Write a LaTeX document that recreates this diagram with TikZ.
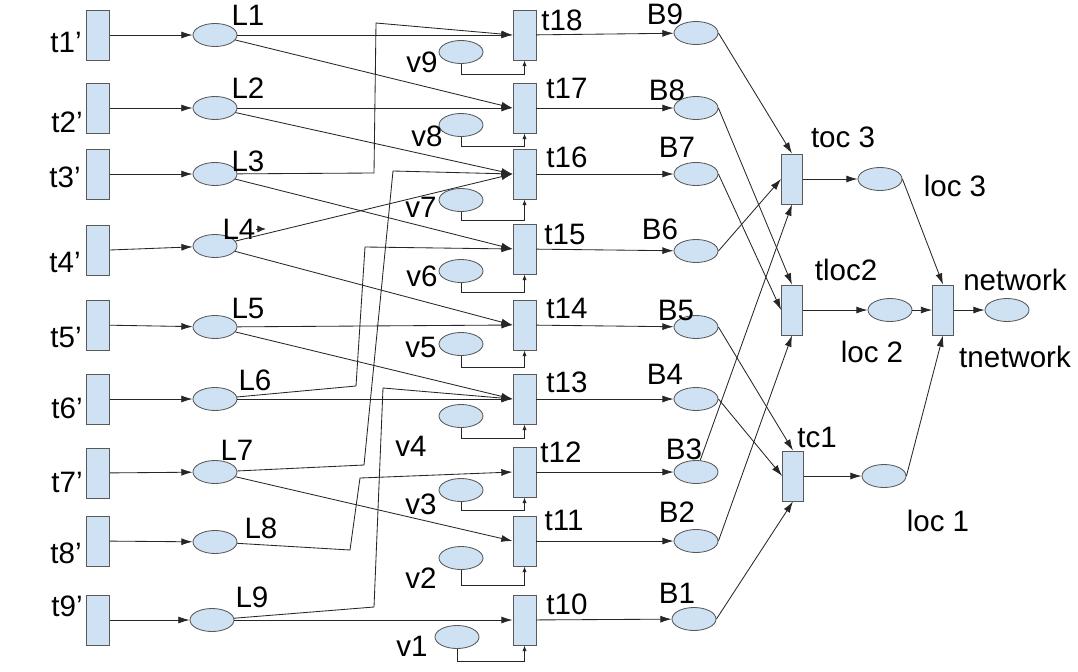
\documentclass[tikz,border=0pt]{standalone}
\usepackage{fontspec}
\setmainfont{Liberation Sans}
\usetikzlibrary{positioning,calc,arrows.meta,shapes.geometric}

\definecolor{netblue}{HTML}{CFE2F3}
\definecolor{netgray}{HTML}{595959}
\definecolor{netline}{HTML}{262626}

\begin{document}
\begin{tikzpicture}[x=0.025cm,y=-0.025cm,->,>={Latex[length=8pt,width=5pt]},
			line width=0.6pt,color=netline,
			trans node/.style={draw=netgray, fill=netblue, rectangle, inner sep=0pt, minimum width=0.575cm, minimum height=1.25cm},
			place node/.style={draw=netgray, fill=netblue, ellipse, inner sep=0pt, minimum width=1.1cm, minimum height=0.575cm},
			tag/.style={font=\fontsize{21}{24}\selectfont, inner sep=0pt, text=black},
			wire/.style={->,>={Latex[length=4pt,width=3pt]}}]

			\useasboundingbox[fill=white] (0,0) rectangle (1078,671);

			% left transitions and places
			\node[trans node] (tp1) at (98,35)  {};
			\node[trans node] (tp2) at (98,108) {};
			\node[trans node] (tp3) at (98,174) {};
			\node[trans node] (tp4) at (98,250) {};
			\node[trans node] (tp5) at (98,325) {};
			\node[trans node] (tp6) at (98,399) {};
			\node[trans node] (tp7) at (98,473) {};
			\node[trans node] (tp8) at (98,541) {};
			\node[trans node] (tp9) at (98,620) {};

			\node[tag] (tp1text) at (66,42)  {t1’};
			\node[tag] (tp2text) at (67,122) {t2’};
			\node[tag] (tp3text) at (65,177) {t3’};
			\node[tag] (tp4text) at (65,262) {t4’};
			\node[tag] (tp5text) at (66,337) {t5’};
			\node[tag] (tp6text) at (67,408) {t6’};
			\node[tag] (tp7text) at (67,482) {t7’};
			\node[tag] (tp8text) at (66,553) {t8’};
			\node[tag] (tp9text) at (67,606) {t9’};

			\node[place node] (L1) at (215,35)  {};
			\node[place node] (L2) at (215,108) {};
			\node[place node] (L3) at (215,174) {};
			\node[place node] (L4) at (215,246) {};
			\node[place node] (L5) at (215,327) {};
			\node[place node] (L6) at (215,399) {};
			\node[place node] (L7) at (215,472) {};
			\node[place node] (L8) at (215,542) {};
			\node[place node] (L9) at (212,620) {};

			\node[tag] (L1text) at (248,15)  {L1};
			\node[tag] (L2text) at (248,88)  {L2};
			\node[tag] (L3text) at (248,161) {L3};
			\node[tag] (L4text) at (239,229) {L4};
			\node[tag] (L5text) at (248,308) {L5};
			\node[tag] (L6text) at (255,380) {L6};
			\node[tag] (L7text) at (237,450) {L7};
			\node[tag] (L8text) at (261,528) {L8};
			\node[tag] (L9text) at (252,597) {L9};
			\draw[-{Latex[length=6pt,width=5pt]}] (L4text.east) -- ++(10,0);

			% middle transitions, v places, B places
			\node[trans node] (t18) at (524.5,35)  {};
			\node[trans node] (t17) at (524.5,108) {};
			\node[trans node] (t16) at (524.5,174) {};
			\node[trans node] (t15) at (524.5,249) {};
			\node[trans node] (t14) at (524.5,325) {};
			\node[trans node] (t13) at (524.5,399) {};
			\node[trans node] (t12) at (524.5,472) {};
			\node[trans node] (t11) at (524.5,541) {};
			\node[trans node] (t10) at (524.5,620) {};

			\node[tag] (t18text) at (562,20)  {t18};
			\node[tag] (t17text) at (567,88)  {t17};
			\node[tag] (t16text) at (567,157) {t16};
			\node[tag] (t15text) at (565,234) {t15};
			\node[tag] (t14text) at (567,308) {t14};
			\node[tag] (t13text) at (567,382) {t13};
			\node[tag] (t12text) at (561,452) {t12};
			\node[tag] (t11text) at (564,520) {t11};
			\node[tag] (t10text) at (567,604) {t10};

			\node[place node] (v9) at (461,52)  {};
			\node[place node] (v8) at (461,125) {};
			\node[place node] (v7) at (461,200) {};
			\node[place node] (v6) at (461,271) {};
			\node[place node] (v5) at (461,344) {};
			\node[place node] (v4) at (461,416) {};
			\node[place node] (v3) at (461,490) {};
			\node[place node] (v2) at (461,558) {};
			\node[place node] (v1) at (457,637) {};

			\node[tag] (v9text) at (422,62)  {v9};
			\node[tag] (v8text) at (427,136) {v8};
			\node[tag] (v7text) at (421,207) {v7};
			\node[tag] (v6text) at (422,276) {v6};
			\node[tag] (v5text) at (421,347) {v5};
			\node[tag] (v4text) at (411,446) {v4};
			\node[tag] (v3text) at (421,504) {v3};
			\node[tag] (v2text) at (421,578) {v2};
			\node[tag] (v1text) at (412,646) {v1};

			\node[place node] (B9) at (696,33)  {};
			\node[place node] (B8) at (696,108) {};
			\node[place node] (B7) at (696,174) {};
			\node[place node] (B6) at (696,251) {};
			\node[place node] (B5) at (696,327) {};
			\node[place node] (B4) at (696,399) {};
			\node[place node] (B3) at (696,472) {};
			\node[place node] (B2) at (696,541) {};
			\node[place node] (B1) at (694,619) {};

			\node[tag] (B9text) at (665,14)  {B9};
			\node[tag] (B8text) at (667,90)  {B8};
			\node[tag] (B7text) at (677,147) {B7};
			\node[tag] (B6text) at (660,229) {B6};
			\node[tag] (B5text) at (676,310) {B5};
			\node[tag] (B4text) at (665,374) {B4};
			\node[tag] (B3text) at (684,449) {B3};
			\node[tag] (B2text) at (677,512) {B2};
			\node[tag] (B1text) at (677,593) {B1};

			% right part
			\node[trans node, minimum width=0.525cm] (toc3) at (792,179) {};
			\node[trans node, minimum width=0.525cm] (tloc2) at (792,310) {};
			\node[trans node, minimum width=0.525cm] (tc1) at (793,476) {};
			\node[trans node, minimum width=0.525cm] (tnetwork) at (943,310) {};
			\node[place node] (loc3) at (880,179) {};
			\node[place node] (loc2) at (890,310) {};
			\node[place node] (loc1) at (884,476) {};
			\node[place node] (network) at (1007,310) {};

			\node[tag] (toc3text) at (843,137) {toc 3};
			\node[tag] (loc3text) at (955,186) {loc 3};
			\node[tag] (tloc2text) at (846,270) {tloc2};
			\node[tag] (networktext) at (1015,280) {network};
			\node[tag] (loc2text) at (872,352) {loc 2};
			\node[tag] (tnetworktext) at (1015,357) {tnetwork};
			\node[tag] (tc1text) at (817,437) {tc1};
			\node[tag] (loc1text) at (938,521) {loc 1};

			% bends of the long links
			\coordinate (k3a) at (374,173);
			\coordinate (k3b) at (376,23);
			\coordinate (k6a) at (356,386);
			\coordinate (k6b) at (365,247);
			\coordinate (k7a) at (364,465);
			\coordinate (k7b) at (393,171);
			\coordinate (k8a) at (350,550);
			\coordinate (k8b) at (360,478);
			\coordinate (k9a) at (374,607);
			\coordinate (k9b) at (383,388);

			\draw (tp1) -- (L1);
			\draw (tp2) -- (L2);
			\draw (tp3) -- (L3);
			\draw (tp4.east) -- (L4);
			\draw (tp5) -- (L5);
			\draw (tp6) -- (L6);
			\draw (tp7) -- (L7);
			\draw (tp8) -- (L8);
			\draw (tp9) -- (L9);

			\draw (L1) -- (t18.west);
			\draw (L1) -- (t17.west);
			\draw (L2) -- (t17.west);
			\draw (L2) -- (t16.west);
			\draw (L3) -- (k3a) -- (k3b) -- (t18.west);
			\draw (L3) -- (t15.west);
			\draw (L4) -- (t16.west);
			\draw (L4) -- (t14.west);
			\draw (L5) -- (t14.west);
			\draw (L5) -- (t13.west);
			\draw (L6) -- (k6a) -- (k6b) -- (t15.west);
			\draw (L6) -- (t13.west);
			\draw (L7) -- (k7a) -- (k7b) -- (t16.west);
			\draw (L7) -- (t11.west);
			\draw (L8) -- (k8a) -- (k8b) -- (t12.west);
			\draw (L9) -- (k9a) -- (k9b) -- (t13.west);
			\draw (L9) -- (t10.west);

			\draw[wire] (v9.south) -- ++(0,10) -| (t18.south);
			\draw[wire] (v8.south) -- ++(0,9) -| (t17.south);
			\draw[wire] (v7.south) -- ++(0,8) -| (t16.south);
			\draw[wire] (v6.south) -- ++(0,9) -| (t15.south);
			\draw[wire] (v5.south) -- ++(0,11) -| (t14.south);
			\draw[wire] (v4.south) -- ++(0,10) -| (t13.south);
			\draw[wire] (v3.south) -- ++(0,8) -| (t12.south);
			\draw[wire] (v2.south) -- ++(0,15) -| (t11.south);
			\draw[wire] (v1.south) -- ++(0,12) -| (t10.south);

			\draw (t18) -- (B9);
			\draw (t17) -- (B8);
			\draw (t16) -- (B7);
			\draw (t15) -- (B6);
			\draw (t14) -- (B5);
			\draw (t13) -- (B4);
			\draw (t12) -- (B3);
			\draw (t11) -- (B2);
			\draw (t10) -- (B1);

			\draw (B9.east) -- (toc3.north);
			\draw (B6.east) -- (toc3.west);
			\draw (B3) -- (toc3.south);
			\draw (B8.east) -- (tloc2.north);
			\draw (B7.east) -- (tloc2.west);
			\draw (B2.east) -- (tloc2.south);
			\draw (B5.east) -- (tc1.north);
			\draw (B4.east) -- (tc1.west);
			\draw (B1.east) -- (tc1.south);

			\draw (toc3) -- (loc3);
			\draw (tloc2) -- (loc2);
			\draw (tc1) -- (loc1);
			\draw (loc3.east) -- (tnetwork.north);
			\draw (loc2) -- (tnetwork);
			\draw (loc1.east) -- (tnetwork.south);
			\draw (tnetwork) -- (network);

		\end{tikzpicture}
\end{document}
